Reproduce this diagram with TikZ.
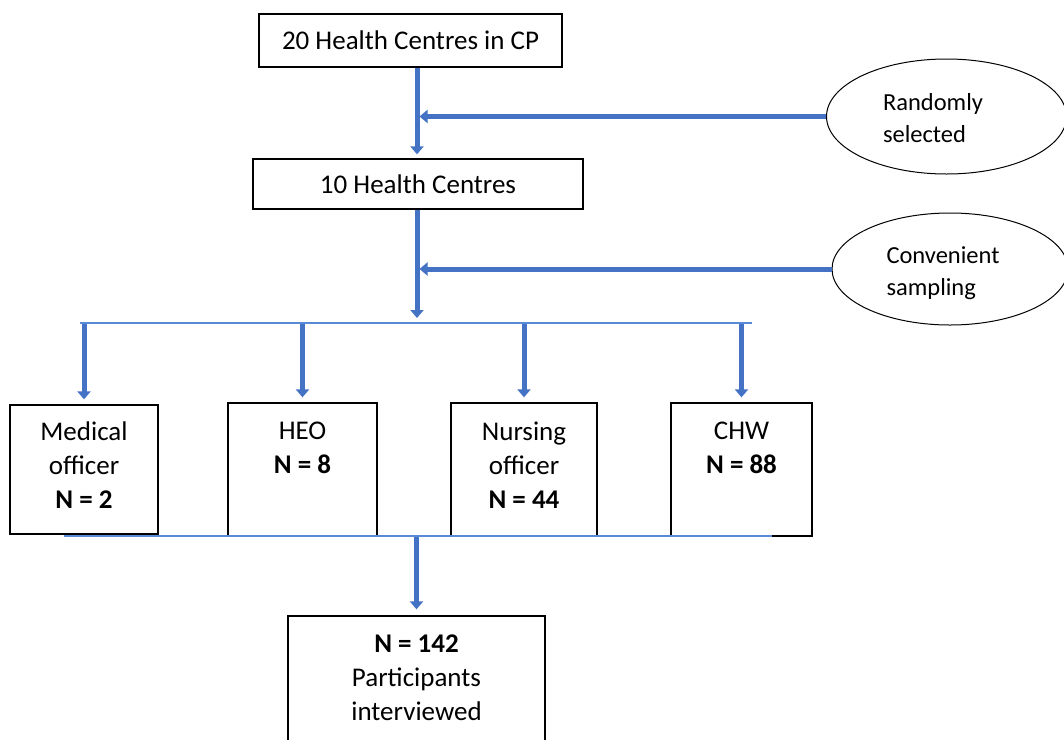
\documentclass[tikz,border=0pt]{standalone}
\usepackage{fontspec}
\setmainfont{Carlito}
\usetikzlibrary{arrows.meta,shapes.geometric,positioning}
\definecolor{flowblue}{HTML}{4472C4}
\definecolor{busblue}{HTML}{5A8AD6}
\tikzset{
	box/.style={draw=black, line width=1.3pt, inner sep=0pt},
	boxtext/.style={align=center, inner sep=0pt, font=\fontsize{27}{34}\selectfont},
	ovaltext/.style={align=left, inner sep=0pt, font=\fontsize{24.5}{32}\selectfont},
	oval/.style={draw=black, ellipse, line width=1pt, inner sep=0pt},
	flow/.style={draw=flowblue, line width=5pt, -{Triangle[width=13pt,length=8pt]}},
	bus/.style={draw=busblue, line width=2pt},
}
\begin{document}
\begin{tikzpicture}[x=1pt, y=-1pt]
		\useasboundingbox (0,0) rectangle (1064,739);

		%health centres
		\node[box, minimum width=303pt, minimum height=53pt, font=\fontsize{27}{34}\selectfont] (hc20) at (410.5,40.5) {20 Health Centres in CP};
		\node[box, minimum width=330pt, minimum height=50pt, font=\fontsize{27}{34}\selectfont] (hc10) at (418,184) {10 Health Centres};
		\coordinate (spine) at (417,0);
		\draw[flow, shorten >=4pt] (hc20.south -| spine) -- (hc10.north -| spine);

		%randomly selected
		\node[oval, minimum width=240pt, minimum height=115pt] (rand) at (946.5,116.5) {};
		\node[ovaltext] (rand-t) at (933,118) {Randomly\\selected};
		\draw[flow, shorten >=2.5pt] (rand.west) -- (rand.west -| spine);

		%convenient sampling
		\coordinate (topbus-l) at (80,323);
		\coordinate (topbus-r) at (752,323);
		\draw[flow, shorten >=5pt] (hc10.south -| spine) -- (topbus-l -| spine);
		\node[oval, minimum width=236pt, minimum height=112pt] (conv) at (950,269) {};
		\node[ovaltext] (conv-t) at (943,273) {Convenient\\sampling};
		\draw[flow, shorten >=2.5pt] (conv.west) -- (conv.west -| spine);

		%staff groups
		\node[box, minimum width=148pt, minimum height=129pt] (mo) at (84,469.5) {};
		\node[box, minimum width=149pt, minimum height=133pt] (heo) at (302.5,469.5) {};
		\node[box, minimum width=146pt, minimum height=133pt] (no) at (524,469.5) {};
		\node[box, minimum width=141pt, minimum height=133pt] (chw) at (741.5,469.5) {};

		\node[boxtext, below=17pt of mo.north] (mo-t) {Medical\\officer\\\textbf{N = 2}};
		\node[boxtext, below=19pt of heo.north] (heo-t) {HEO\\\textbf{N = 8}};
		\node[boxtext, below=19pt of no.north] (no-t) {Nursing\\officer\\\textbf{N = 44}};
		\node[boxtext, below=19pt of chw.north] (chw-t) {CHW\\\textbf{N = 88}};

		\draw[bus] (topbus-l) -- (topbus-r);
		\foreach \b in {mo,heo,no,chw}{
			\draw[flow, shorten <=1pt, shorten >=5pt] (\b.north |- topbus-l) -- (\b.north);
		}

		%participants
		\node[box, minimum width=257pt, minimum height=154pt] (fin) at (416.5,693) {};
		\node[boxtext, below=19pt of fin.north] (fin-t) {\textbf{N = 142}\\Participants\\interviewed};
		\coordinate (botbus-l) at (64,536);
		\coordinate (botbus-r) at (772,536);
		\draw[bus] (botbus-l) -- (botbus-r);
		\draw[flow, shorten <=1pt, shorten >=6pt] (fin.north |- botbus-l) -- (fin.north);
	\end{tikzpicture}
\end{document}
